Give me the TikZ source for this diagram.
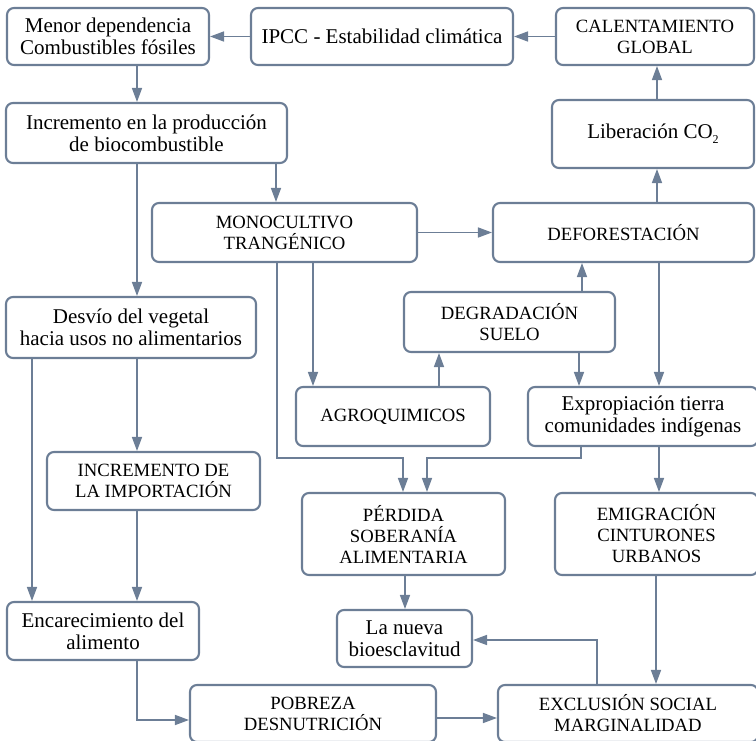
\documentclass[tikz,border=0pt]{standalone}
\usepackage{fontspec}
\setmainfont{Liberation Serif}
\usetikzlibrary{arrows.meta}
\definecolor{lc}{RGB}{108,126,150}
\tikzset{
  box/.style={draw=lc, line width=2.1pt, rounded corners=7pt, inner sep=0pt, align=center, text=black},
  mix/.style={box, font=\fontsize{21}{22}\selectfont},
  caps/.style={box, font=\fontsize{18.7}{21}\selectfont},
  arr/.style={draw=lc, line width=1.5pt, -{Triangle[length=14pt,width=10pt]}},
}
\begin{document}
\begin{tikzpicture}[x=1pt,y=-1pt]
\useasboundingbox (0,0) rectangle (756,741);
% nodes
\node[mix, minimum width=202, minimum height=57] (menor) at (108,36.5) {Menor dependencia\\Combustibles fósiles};
\node[mix, minimum width=262, minimum height=57] (ipcc) at (382,36.5) {IPCC - Estabilidad climática};
\node[caps, minimum width=198, minimum height=57] (calent) at (655,36.5) {CALENTAMIENTO\\GLOBAL};
\node[mix, minimum width=202, minimum height=68] (liber) at (653,134) {Liberación CO\raisebox{-0.5ex}{\fontsize{12}{12}\selectfont 2}};
\node[mix, minimum width=281, minimum height=60] (incprod) at (146.5,133) {Incremento en la producción\\de biocombustible};
\node[caps, minimum width=265, minimum height=59] (mono) at (284.5,232.5) {MONOCULTIVO\\TRANGÉNICO};
\node[caps, minimum width=261, minimum height=59] (defor) at (623.5,232.5) {DEFORESTACIÓN};
\node[caps, minimum width=211, minimum height=60] (degrad) at (509.5,322) {DEGRADACIÓN\\SUELO};
\node[caps, minimum width=194, minimum height=59] (agro) at (393,416.5) {AGROQUIMICOS};
\node[mix, minimum width=230, minimum height=59] (expro) at (643,416.5) {Expropiación tierra\\comunidades indígenas};
\node[mix, minimum width=250, minimum height=61] (desvio) at (131,327.5) {Desvío del vegetal\\hacia usos no alimentarios};
\node[caps, minimum width=213, minimum height=58] (import) at (153.5,481) {INCREMENTO DE\\LA IMPORTACIÓN};
\node[caps, minimum width=203, minimum height=82] (perdida) at (403.5,534) {PÉRDIDA\\SOBERANÍA\\ALIMENTARIA};
\node[caps, minimum width=203, minimum height=82] (emig) at (656.5,534) {EMIGRACIÓN\\CINTURONES\\URBANOS};
\node[mix, minimum width=192, minimum height=58] (encar) at (103,631) {Encarecimiento del\\alimento};
\node[mix, minimum width=135, minimum height=57] (nueva) at (404.5,638.5) {La nueva\\bioesclavitud};
\node[caps, minimum width=246, minimum height=57] (pobreza) at (313,713.5) {POBREZA\\DESNUTRICIÓN};
\node[caps, minimum width=260, minimum height=57] (exclus) at (628,713.5) {EXCLUSIÓN SOCIAL\\MARGINALIDAD};
% column / row helpers
\coordinate (X32) at (32,0);
\coordinate (X137) at (137,0);
\coordinate (X276) at (276,0);
\coordinate (X277) at (277,0);
\coordinate (X313) at (313,0);
\coordinate (X403) at (403,0);
\coordinate (X405) at (405,0);
\coordinate (X427) at (427,0);
\coordinate (X439) at (439,0);
\coordinate (X579) at (579,0);
\coordinate (X581) at (581,0);
\coordinate (X582) at (582,0);
\coordinate (X597) at (597,0);
\coordinate (X656) at (656,0);
\coordinate (X657) at (657,0);
\coordinate (X659) at (659,0);
\coordinate (Y458) at (0,458);
\coordinate (Y640) at (0,640);
\coordinate (Y718) at (0,718);
\coordinate (Y720) at (0,720);
% connectors
\draw[arr] (ipcc) -- (menor);
\draw[arr] (calent) -- (ipcc);
\draw[arr] (X137 |- menor.south) -- (X137 |- incprod.north);
\draw[arr] (X137 |- incprod.south) -- (X137 |- desvio.north);
\draw[arr] (X276 |- incprod.south) -- (X276 |- mono.north);
\draw[arr] (mono) -- (defor);
\draw[arr] (X313 |- mono.south) -- (X313 |- agro.north);
\draw[arr] (X277 |- mono.south) -- (X277 |- Y458) -- (X403 |- Y458) -- (X403 |- perdida.north);
\draw[arr] (X581 |- expro.south) -- (X581 |- Y458) -- (X427 |- Y458) -- (X427 |- perdida.north);
\draw[arr] (X439 |- agro.north) -- (X439 |- degrad.south);
\draw[arr] (X582 |- degrad.north) -- (X582 |- defor.south);
\draw[arr] (X579 |- degrad.south) -- (X579 |- expro.north);
\draw[arr] (X659 |- defor.south) -- (X659 |- expro.north);
\draw[arr] (X657 |- defor.north) -- (X657 |- liber.south);
\draw[arr] (X657 |- liber.north) -- (X657 |- calent.south);
\draw[arr] (X659 |- expro.south) -- (X659 |- emig.north);
\draw[arr] (X656 |- emig.south) -- (X656 |- exclus.north);
\draw[arr] (X597 |- exclus.north) -- (X597 |- Y640) -- (nueva.east |- Y640);
\draw[arr] (X405 |- perdida.south) -- (X405 |- nueva.north);
\draw[arr] (X32 |- desvio.south) -- (X32 |- encar.north);
\draw[arr] (X137 |- desvio.south) -- (X137 |- import.north);
\draw[arr] (X137 |- import.south) -- (X137 |- encar.north);
\draw[arr] (X137 |- encar.south) -- (X137 |- Y720) -- (pobreza.west |- Y720);
\draw[arr] (pobreza.east |- Y718) -- (exclus.west |- Y718);
\end{tikzpicture}
\end{document}
